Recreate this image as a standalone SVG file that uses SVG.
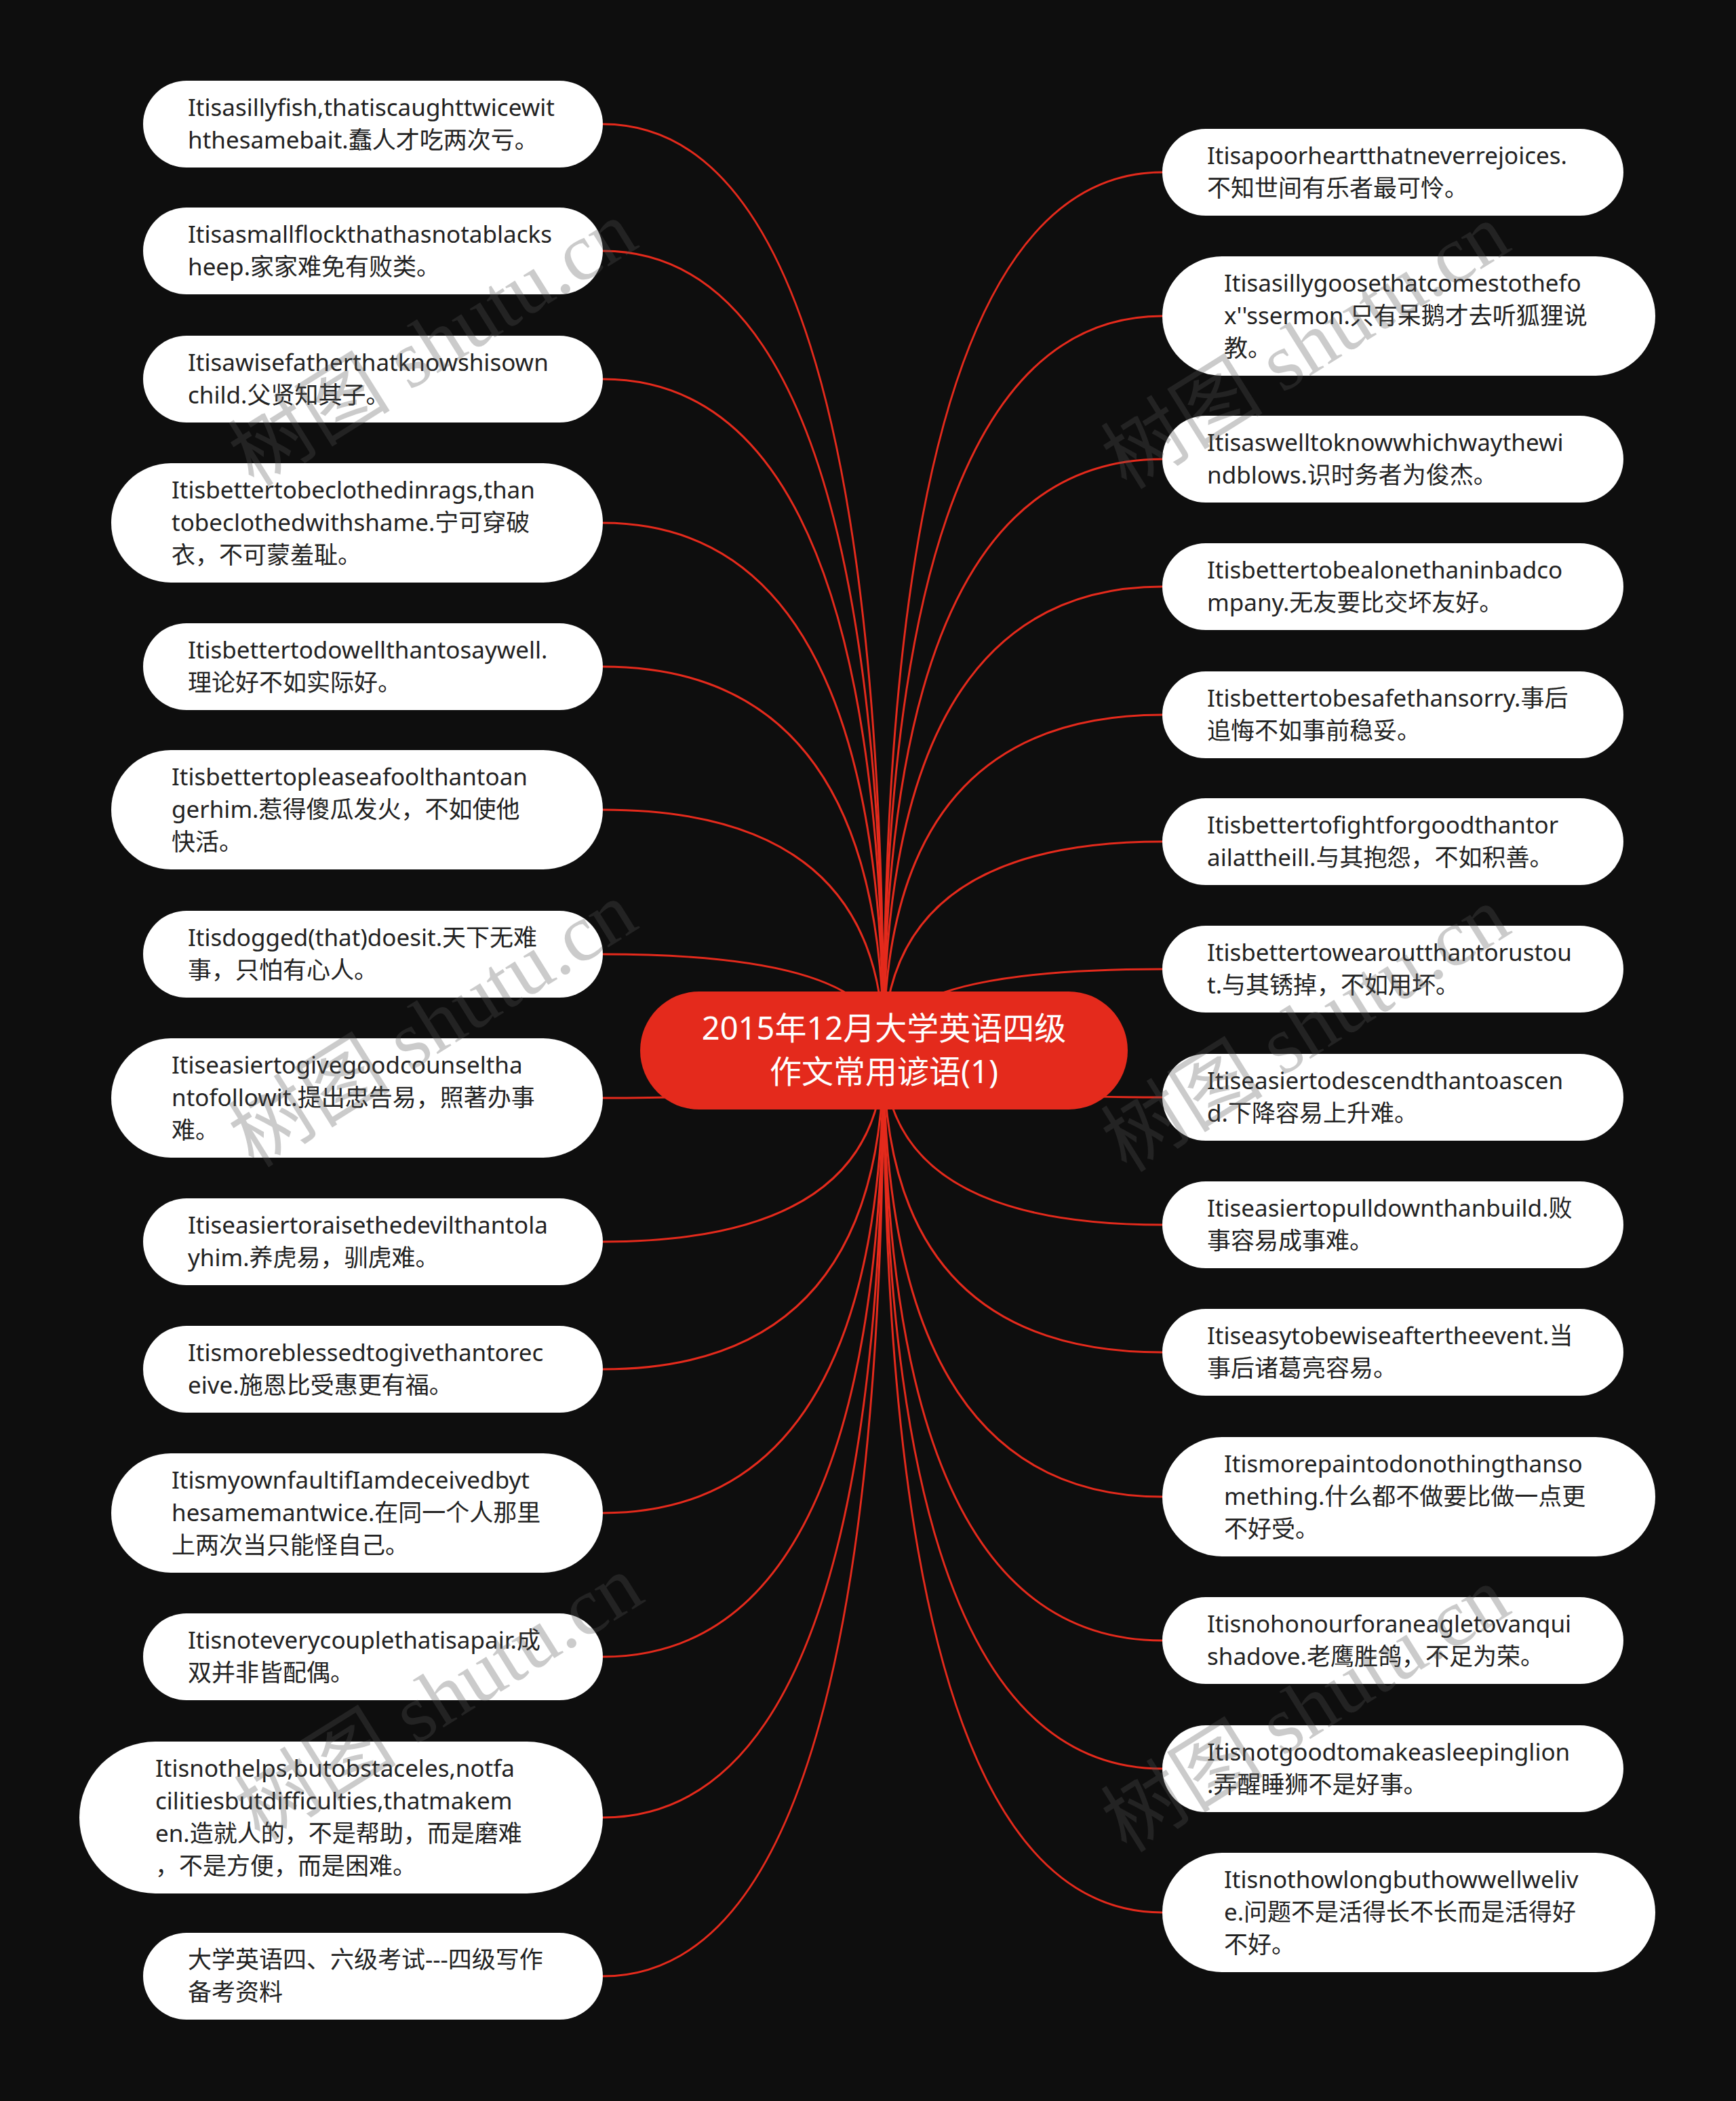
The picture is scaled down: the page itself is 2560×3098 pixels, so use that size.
<svg xmlns="http://www.w3.org/2000/svg" width="2560" height="3098" viewBox="0 0 2560 3098">
<style>
.bg{fill:#0e0e0e}
.node rect{fill:#ffffff}
.node text{font-family:"Noto Sans","Noto Sans CJK SC",sans-serif;font-size:35px;fill:#222222}
.root rect{fill:#e42a1c}
.root text{font-family:"Noto Sans","Noto Sans CJK SC",sans-serif;font-size:47px;fill:#ffffff;text-anchor:middle}
.links path{fill:none;stroke:#e42a1c;stroke-width:3}
.wm text{font-family:"Liberation Serif","Noto Sans CJK SC",serif;font-size:120px;fill:#555555;opacity:0.3;text-anchor:middle}
</style>
<rect class="bg" x="0" y="0" width="2560" height="3098"/>
<g class="links">
<path d="M889 183Q1303 183 1303 1549"/>
<path d="M889 370Q1303 370 1303 1549"/>
<path d="M889 559Q1303 559 1303 1549"/>
<path d="M889 771Q1303 771 1303 1549"/>
<path d="M889 983Q1303 983 1303 1549"/>
<path d="M889 1194Q1303 1194 1303 1549"/>
<path d="M889 1407Q1303 1407 1303 1549"/>
<path d="M889 1619Q1303 1619 1303 1549"/>
<path d="M889 1831Q1303 1831 1303 1549"/>
<path d="M889 2019Q1303 2019 1303 1549"/>
<path d="M889 2231Q1303 2231 1303 1549"/>
<path d="M889 2443Q1303 2443 1303 1549"/>
<path d="M889 2680Q1303 2680 1303 1549"/>
<path d="M889 2914Q1303 2914 1303 1549"/>
<path d="M1714 254Q1303 254 1303 1549"/>
<path d="M1714 466Q1303 466 1303 1549"/>
<path d="M1714 677Q1303 677 1303 1549"/>
<path d="M1714 865Q1303 865 1303 1549"/>
<path d="M1714 1054Q1303 1054 1303 1549"/>
<path d="M1714 1241Q1303 1241 1303 1549"/>
<path d="M1714 1429Q1303 1429 1303 1549"/>
<path d="M1714 1618Q1303 1618 1303 1549"/>
<path d="M1714 1806Q1303 1806 1303 1549"/>
<path d="M1714 1994Q1303 1994 1303 1549"/>
<path d="M1714 2207Q1303 2207 1303 1549"/>
<path d="M1714 2419Q1303 2419 1303 1549"/>
<path d="M1714 2608Q1303 2608 1303 1549"/>
<path d="M1714 2820Q1303 2820 1303 1549"/>
</g>
<g id="root" class="root">
<rect x="944" y="1462" width="719" height="174" rx="87"/>
<text x="1303.5" y="1533">2015年12月大学英语四级</text>
<text x="1303.5" y="1597">作文常用谚语(1)</text>
</g>
<g id="L1" class="node"><rect x="211" y="119" width="678" height="128" rx="64"/><text x="277" y="171">Itisasillyfish,thatiscaughttwicewit</text><text x="277" y="219">hthesamebait.蠢人才吃两次亏。</text></g>
<g id="L2" class="node"><rect x="211" y="306" width="678" height="128" rx="64"/><text x="277" y="358">Itisasmallflockthathasnotablacks</text><text x="277" y="406">heep.家家难免有败类。</text></g>
<g id="L3" class="node"><rect x="211" y="495" width="678" height="128" rx="64"/><text x="277" y="547">Itisawisefatherthatknowshisown</text><text x="277" y="595">child.父贤知其子。</text></g>
<g id="L4" class="node"><rect x="164" y="683" width="725" height="176" rx="88"/><text x="253" y="735">Itisbettertobeclothedinrags,than</text><text x="253" y="783">tobeclothedwithshame.宁可穿破</text><text x="253" y="831">衣，不可蒙羞耻。</text></g>
<g id="L5" class="node"><rect x="211" y="919" width="678" height="128" rx="64"/><text x="277" y="971">Itisbettertodowellthantosaywell.</text><text x="277" y="1019">理论好不如实际好。</text></g>
<g id="L6" class="node"><rect x="164" y="1106" width="725" height="176" rx="88"/><text x="253" y="1158">Itisbettertopleaseafoolthantoan</text><text x="253" y="1206">gerhim.惹得傻瓜发火，不如使他</text><text x="253" y="1254">快活。</text></g>
<g id="L7" class="node"><rect x="211" y="1343" width="678" height="128" rx="64"/><text x="277" y="1395">Itisdogged(that)doesit.天下无难</text><text x="277" y="1443">事，只怕有心人。</text></g>
<g id="L8" class="node"><rect x="164" y="1531" width="725" height="176" rx="88"/><text x="253" y="1583">Itiseasiertogivegoodcounseltha</text><text x="253" y="1631">ntofollowit.提出忠告易，照著办事</text><text x="253" y="1679">难。</text></g>
<g id="L9" class="node"><rect x="211" y="1767" width="678" height="128" rx="64"/><text x="277" y="1819">Itiseasiertoraisethedevilthantola</text><text x="277" y="1867">yhim.养虎易，驯虎难。</text></g>
<g id="L10" class="node"><rect x="211" y="1955" width="678" height="128" rx="64"/><text x="277" y="2007">Itismoreblessedtogivethantorec</text><text x="277" y="2055">eive.施恩比受惠更有福。</text></g>
<g id="L11" class="node"><rect x="164" y="2143" width="725" height="176" rx="88"/><text x="253" y="2195">ItismyownfaultifIamdeceivedbyt</text><text x="253" y="2243">hesamemantwice.在同一个人那里</text><text x="253" y="2291">上两次当只能怪自己。</text></g>
<g id="L12" class="node"><rect x="211" y="2379" width="678" height="128" rx="64"/><text x="277" y="2431">Itisnoteverycouplethatisapair.成</text><text x="277" y="2479">双并非皆配偶。</text></g>
<g id="L13" class="node"><rect x="117" y="2568" width="772" height="224" rx="112"/><text x="229" y="2620">Itisnothelps,butobstaceles,notfa</text><text x="229" y="2668">cilitiesbutdifficulties,thatmakem</text><text x="229" y="2716">en.造就人的，不是帮助，而是磨难</text><text x="229" y="2764">，不是方便，而是困难。</text></g>
<g id="L14" class="node"><rect x="211" y="2850" width="678" height="128" rx="64"/><text x="277" y="2902">大学英语四、六级考试---四级写作</text><text x="277" y="2950">备考资料</text></g>
<g id="R1" class="node"><rect x="1714" y="190" width="680" height="128" rx="64"/><text x="1780" y="242">Itisapoorheartthatneverrejoices.</text><text x="1780" y="290">不知世间有乐者最可怜。</text></g>
<g id="R2" class="node"><rect x="1714" y="378" width="727" height="176" rx="88"/><text x="1805" y="430">Itisasillygoosethatcomestothefo</text><text x="1805" y="478">x''ssermon.只有呆鹅才去听狐狸说</text><text x="1805" y="526">教。</text></g>
<g id="R3" class="node"><rect x="1714" y="613" width="680" height="128" rx="64"/><text x="1780" y="665">Itisaswelltoknowwhichwaythewi</text><text x="1780" y="713">ndblows.识时务者为俊杰。</text></g>
<g id="R4" class="node"><rect x="1714" y="801" width="680" height="128" rx="64"/><text x="1780" y="853">Itisbettertobealonethaninbadco</text><text x="1780" y="901">mpany.无友要比交坏友好。</text></g>
<g id="R5" class="node"><rect x="1714" y="990" width="680" height="128" rx="64"/><text x="1780" y="1042">Itisbettertobesafethansorry.事后</text><text x="1780" y="1090">追悔不如事前稳妥。</text></g>
<g id="R6" class="node"><rect x="1714" y="1177" width="680" height="128" rx="64"/><text x="1780" y="1229">Itisbettertofightforgoodthantor</text><text x="1780" y="1277">ailattheill.与其抱怨，不如积善。</text></g>
<g id="R7" class="node"><rect x="1714" y="1365" width="680" height="128" rx="64"/><text x="1780" y="1417">Itisbettertowearoutthantorustou</text><text x="1780" y="1465">t.与其锈掉，不如用坏。</text></g>
<g id="R8" class="node"><rect x="1714" y="1554" width="680" height="128" rx="64"/><text x="1780" y="1606">Itiseasiertodescendthantoascen</text><text x="1780" y="1654">d.下降容易上升难。</text></g>
<g id="R9" class="node"><rect x="1714" y="1742" width="680" height="128" rx="64"/><text x="1780" y="1794">Itiseasiertopulldownthanbuild.败</text><text x="1780" y="1842">事容易成事难。</text></g>
<g id="R10" class="node"><rect x="1714" y="1930" width="680" height="128" rx="64"/><text x="1780" y="1982">Itiseasytobewiseaftertheevent.当</text><text x="1780" y="2030">事后诸葛亮容易。</text></g>
<g id="R11" class="node"><rect x="1714" y="2119" width="727" height="176" rx="88"/><text x="1805" y="2171">Itismorepaintodonothingthanso</text><text x="1805" y="2219">mething.什么都不做要比做一点更</text><text x="1805" y="2267">不好受。</text></g>
<g id="R12" class="node"><rect x="1714" y="2355" width="680" height="128" rx="64"/><text x="1780" y="2407">Itisnohonourforaneagletovanqui</text><text x="1780" y="2455">shadove.老鹰胜鸽，不足为荣。</text></g>
<g id="R13" class="node"><rect x="1714" y="2544" width="680" height="128" rx="64"/><text x="1780" y="2596">Itisnotgoodtomakeasleepinglion</text><text x="1780" y="2644">.弄醒睡狮不是好事。</text></g>
<g id="R14" class="node"><rect x="1714" y="2732" width="727" height="176" rx="88"/><text x="1805" y="2784">Itisnothowlongbuthowwellweliv</text><text x="1805" y="2832">e.问题不是活得长不长而是活得好</text><text x="1805" y="2880">不好。</text></g>
<g class="wm">
<text transform="translate(660 541) rotate(-32)">树图 shutu.cn</text>
<text transform="translate(1947 545) rotate(-32)">树图 shutu.cn</text>
<text transform="translate(660 1545) rotate(-32)">树图 shutu.cn</text>
<text transform="translate(1947 1552) rotate(-32)">树图 shutu.cn</text>
<text transform="translate(669 2538) rotate(-32)">树图 shutu.cn</text>
<text transform="translate(1947 2555) rotate(-32)">树图 shutu.cn</text>
</g>
</svg>
